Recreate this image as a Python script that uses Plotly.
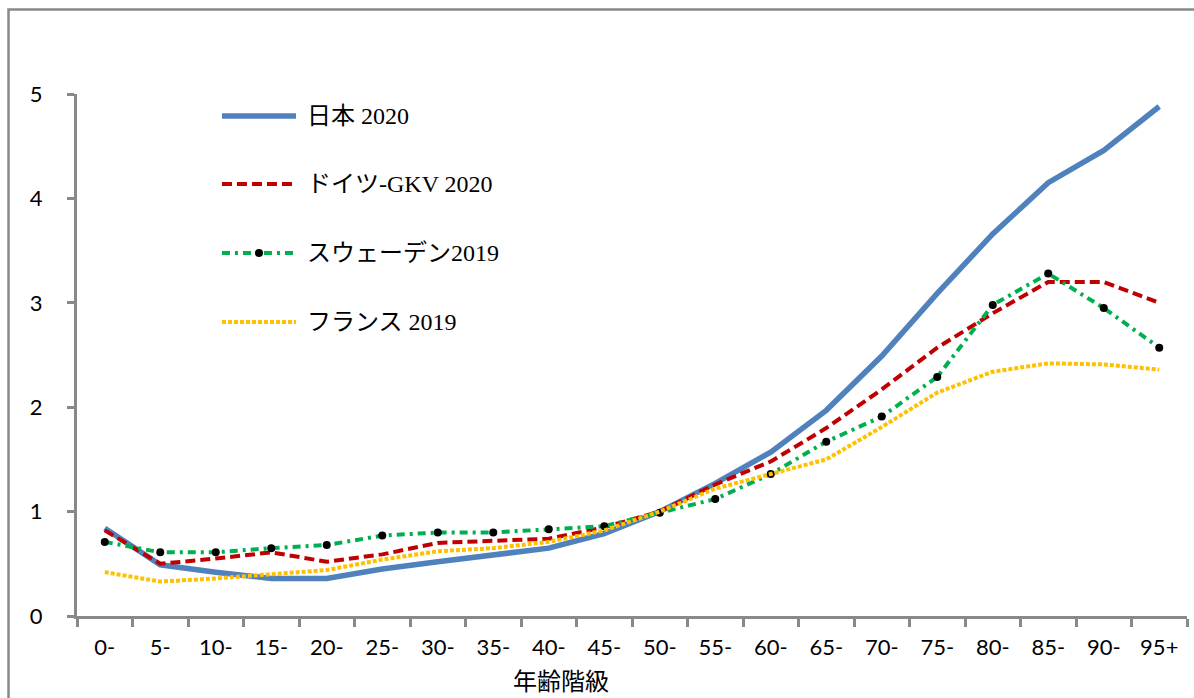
import plotly.graph_objects as go

# Age classes (5-year bands)
age_groups = ["0-", "5-", "10-", "15-", "20-", "25-", "30-", "35-", "40-", "45-",
              "50-", "55-", "60-", "65-", "70-", "75-", "80-", "85-", "90-", "95+"]

# Relative values per age class (50- band = 1.0)
japan_2020 = [0.84, 0.49, 0.42, 0.36, 0.36, 0.45, 0.52, 0.58, 0.65, 0.79,
              1.00, 1.27, 1.57, 1.97, 2.49, 3.09, 3.66, 4.15, 4.46, 4.88]
germany_gkv_2020 = [0.82, 0.50, 0.55, 0.61, 0.52, 0.59, 0.70, 0.72, 0.74, 0.85,
                    1.00, 1.26, 1.48, 1.80, 2.17, 2.57, 2.90, 3.20, 3.20, 3.00]
sweden_2019 = [0.71, 0.61, 0.61, 0.65, 0.68, 0.77, 0.80, 0.80, 0.83, 0.86,
               0.99, 1.12, 1.36, 1.67, 1.91, 2.29, 2.98, 3.28, 2.95, 2.57]
france_2019 = [0.42, 0.33, 0.36, 0.40, 0.44, 0.54, 0.62, 0.65, 0.71, 0.82,
               1.00, 1.22, 1.36, 1.50, 1.81, 2.14, 2.34, 2.42, 2.41, 2.36]

series_names = ["日本 2020", "ドイツ-GKV 2020", "スウェーデン2019", "フランス 2019"]
series_values = [japan_2020, germany_gkv_2020, sweden_2019, france_2019]
series_colors = ["#4f81bd", "#c00000", "#00b050", "#ffc000"]
series_widths = [5.5, 4, 4, 4]
series_dashes = ["solid", "10px,5px", "8px,5px,3px,5px", "4px,2px"]

x_title = "年齢階級"
axis_gray = "#898989"
tick_font = dict(family="Lato, 'Liberation Sans', sans-serif", size=22, color="#000000")
legend_font = dict(family="'Liberation Serif', 'Noto Sans CJK JP', serif", size=24, color="#000000")

fig = go.Figure()

for name, vals, color, width, dash in zip(series_names, series_values,
                                          series_colors, series_widths, series_dashes):
    is_sweden = name.startswith("スウェーデン")
    fig.add_trace(go.Scatter(
        x=age_groups, y=vals, name=name,
        mode="lines+markers" if is_sweden else "lines",
        line=dict(color=color, width=width, dash=dash),
        marker=dict(color="#000000", size=8, symbol="circle") if is_sweden else None,
        showlegend=False,
    ))

# Legend drawn inside the plot area: sample line + label per series
legend_x0, legend_x1, legend_text_x = 0.1306, 0.1973, 0.2054
legend_rows_y = [0.9579, 0.8276, 0.6954, 0.5632]
shapes = []
annotations = []
for name, color, width, dash, ly in zip(series_names, series_colors, series_widths,
                                        series_dashes, legend_rows_y):
    shapes.append(dict(type="line", xref="paper", yref="paper",
                       x0=legend_x0, x1=legend_x1, y0=ly, y1=ly,
                       line=dict(color=color, width=width, dash=dash)))
    annotations.append(dict(text=name, xref="paper", yref="paper",
                            x=legend_text_x, y=ly, xanchor="left", yanchor="middle",
                            showarrow=False, font=legend_font))
    if name.startswith("スウェーデン"):
        shapes.append(dict(type="circle", xref="paper", yref="paper",
                           xsizemode="pixel", ysizemode="pixel",
                           xanchor=(legend_x0 + legend_x1) / 2, yanchor=ly,
                           x0=-4, x1=4, y0=-4, y1=4,
                           fillcolor="#000000", line=dict(color="#000000", width=0)))

# Outer chart frame
shapes.append(dict(type="rect", xref="paper", yref="paper",
                   x0=-0.0617, x1=1.02, y0=-0.18, y1=1.1619,
                   line=dict(color=axis_gray, width=2.5), fillcolor="rgba(0,0,0,0)",
                   layer="below"))

annotations.append(dict(text=x_title, xref="paper", yref="paper",
                        x=0.436, y=-0.1226, xanchor="center", yanchor="middle",
                        showarrow=False,
                        font=dict(family="'Noto Sans CJK JP', sans-serif", size=24,
                                  color="#000000")))

fig.update_layout(
    width=1194, height=698,
    margin=dict(l=77, r=7, t=94, b=82),
    paper_bgcolor="#ffffff", plot_bgcolor="#ffffff",
    showlegend=False,
    shapes=shapes,
    annotations=annotations,
    xaxis=dict(
        type="category", range=[-0.5, len(age_groups) - 0.5],
        showgrid=False, zeroline=False,
        showline=True, linecolor=axis_gray, linewidth=3,
        ticks="outside", tickson="boundaries", ticklen=8, tickwidth=3,
        tickcolor=axis_gray, tickfont=tick_font, ticklabelstandoff=10,
    ),
    yaxis=dict(
        range=[0, 5], tickvals=[0, 1, 2, 3, 4, 5],
        showgrid=False, zeroline=False,
        showline=True, linecolor=axis_gray, linewidth=3,
        ticks="outside", ticklen=7, tickwidth=3, tickcolor=axis_gray,
        tickfont=tick_font, ticklabelstandoff=20,
    ),
)

fig.write_html("out.html")
